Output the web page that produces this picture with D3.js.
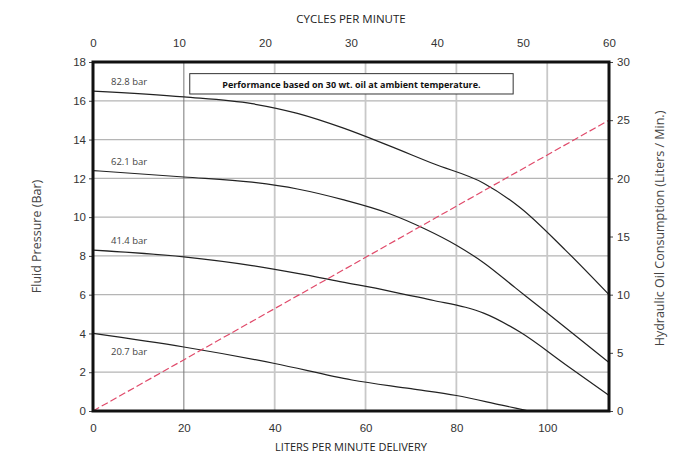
<!DOCTYPE html>
<html>
<head>
<meta charset="utf-8">
<script src="https://cdn.jsdelivr.net/npm/d3@7"></script>
<style>
  body { margin: 0; background: #fff; }
  svg { font-family: "Open Sans", "DejaVu Sans", sans-serif; }
</style>
</head>
<body>
<div id="chart"></div>
<script>
// curvas de presion (litros/min, bar)
const curva828 = [[0,16.5],[20,16.2],[35,15.85],[45,15.35],[55,14.6],[65,13.7],[75,12.75],[86,11.75],[94,10.5],[104,8.3],[113.6,6.0]]
const curva621 = [[0,12.4],[20,12.07],[35,11.8],[45,11.45],[55,10.9],[65,10.2],[73,9.4],[80,8.55],[86,7.65],[93,6.35],[100,5.05],[113.6,2.5]]
const curva414 = [[0,8.3],[20,7.95],[35,7.5],[45,7.1],[55,6.65],[65,6.2],[75,5.7],[82,5.35],[86,5.05],[94,4.07],[104,2.4],[113.6,0.8]]
const curva207 = [[0,4.0],[20,3.3],[40,2.45],[57,1.6],[70,1.15],[80,0.8],[90,0.3],[96,0]]
const etiquetas = ["82.8 bar", "62.1 bar", "41.4 bar", "20.7 bar"]

// consumo de aceite (ciclos/min, litros/min)
const ciclos = [0, 60]
const consumo = [0, 25]

const ticksLitros = [0, 20, 40, 60, 80, 100]
const ticksCiclos = [0, 10, 20, 30, 40, 50, 60]
const ticksBar = [0, 2, 4, 6, 8, 10, 12, 14, 16, 18]
const ticksConsumo = [0, 5, 10, 15, 20, 25, 30]
const gridVert = [20, 40, 60, 80, 100]
const gridHoriz = [2, 4, 6, 8, 10, 12, 14, 16]

const anchoTotal = 689
const altoTotal = 454
const margins = { top: 62, right: 80, bottom: 43, left: 93 }
const ancho = anchoTotal - margins.left - margins.right
const alto = altoTotal - margins.top - margins.bottom

const svg = d3.select("#chart").append("svg")
  .attr("width", anchoTotal)
  .attr("height", altoTotal)

const g = svg.append("g")
  .attr("transform", `translate(${margins.left},${margins.top})`)

const x = d3.scaleLinear().domain([0, 113.6]).range([0, ancho])
const xTop = d3.scaleLinear().domain([0, 60]).range([0, ancho])
const y = d3.scaleLinear().domain([0, 18]).range([alto, 0])
const yR = d3.scaleLinear().domain([0, 30]).range([alto, 0])

// rejilla
g.selectAll(".gh").data(gridHoriz).enter().append("line")
  .attr("x1", 0).attr("x2", ancho)
  .attr("y1", d => y(d)).attr("y2", d => y(d))
  .attr("stroke", "#b5b5b5").attr("stroke-width", 1.2)

g.selectAll(".gv").data(gridVert).enter().append("line")
  .attr("x1", d => x(d)).attr("x2", d => x(d))
  .attr("y1", 0).attr("y2", alto)
  .attr("stroke", d => d == 20 ? "#777" : "#c8c8c8")
  .attr("stroke-width", d => d == 20 ? 1 : 1.8)

// ejes
const estiloEje = (sel) => {
  sel.select(".domain").remove()
  sel.selectAll("line").attr("stroke", "#444")
  sel.selectAll("text").attr("fill", "#333").style("font-size", "11.5px")
}

g.append("g").attr("transform", `translate(0,${alto})`)
  .call(d3.axisBottom(x).tickValues(ticksLitros).tickSize(0).tickPadding(13))
  .call(estiloEje)

g.append("g")
  .call(d3.axisTop(xTop).tickValues(ticksCiclos).tickSize(0).tickPadding(15))
  .call(estiloEje)

g.append("g")
  .call(d3.axisLeft(y).tickValues(ticksBar).tickSize(4).tickPadding(3))
  .call(estiloEje)

g.append("g").attr("transform", `translate(${ancho},0)`)
  .call(d3.axisRight(yR).tickValues(ticksConsumo).tickSize(4).tickPadding(4))
  .call(estiloEje)

// lineas de presion
const linea = d3.line()
  .x(d => x(d[0]))
  .y(d => y(d[1]))
  .curve(d3.curveMonotoneX)

const curvas = [curva828, curva621, curva414, curva207]
g.selectAll(".curva").data(curvas).enter().append("path")
  .attr("d", linea)
  .attr("fill", "none")
  .attr("stroke", "#222")
  .attr("stroke-width", 1.2)

// consumo de aceite
const consumoData = ciclos.map((c, i) => [c, consumo[i]])
g.append("path")
  .datum(consumoData)
  .attr("d", d3.line().x(d => xTop(d[0])).y(d => yR(d[1])))
  .attr("fill", "none")
  .attr("stroke", "#e04a6a")
  .attr("stroke-width", 1.2)
  .attr("stroke-dasharray", "7,3")

// etiquetas de las curvas
g.selectAll(".etq").data(etiquetas).enter().append("text")
  .attr("x", 18)
  .attr("y", (d, i) => y(curvas[i][0][1]) + (i == 3 ? 22 : -6))
  .attr("fill", "#444")
  .style("font-size", "9.5px")
  .text(d => d)

// nota
const nota = g.append("g").attr("transform", `translate(${x(21.3)},${y(17.4)})`)
nota.append("rect")
  .attr("width", x(92.5) - x(21.3))
  .attr("height", y(16.35) - y(17.4))
  .attr("fill", "#fff")
  .attr("stroke", "#333")
  .attr("stroke-width", 1)
nota.append("text")
  .attr("x", (x(92.5) - x(21.3)) / 2)
  .attr("y", 14)
  .attr("text-anchor", "middle")
  .attr("fill", "#111")
  .style("font-size", "9px")
  .style("font-weight", "bold")
  .text("Performance based on 30 wt. oil at ambient temperature.")

// marco
g.append("rect")
  .attr("width", ancho).attr("height", alto)
  .attr("fill", "none")
  .attr("stroke", "#111")
  .attr("stroke-width", 3)

// titulos
svg.append("text")
  .attr("x", margins.left + ancho / 2).attr("y", 23)
  .attr("text-anchor", "middle").attr("fill", "#222")
  .style("font-size", "11.5px")
  .text("CYCLES PER MINUTE")

svg.append("text")
  .attr("x", margins.left + ancho / 2).attr("y", 451)
  .attr("text-anchor", "middle").attr("fill", "#222")
  .style("font-size", "11px")
  .text("LITERS PER MINUTE DELIVERY")

svg.append("text")
  .attr("transform", `translate(41,${margins.top + alto / 2}) rotate(-90)`)
  .attr("text-anchor", "middle").attr("fill", "#444")
  .style("font-size", "12.5px")
  .text("Fluid Pressure (Bar)")

svg.append("text")
  .attr("transform", `translate(664,${margins.top + alto / 2 - 8}) rotate(-90)`)
  .attr("text-anchor", "middle").attr("fill", "#444")
  .style("font-size", "12.5px")
  .text("Hydraulic Oil Consumption (Liters / Min.)")
</script>
</body>
</html>
